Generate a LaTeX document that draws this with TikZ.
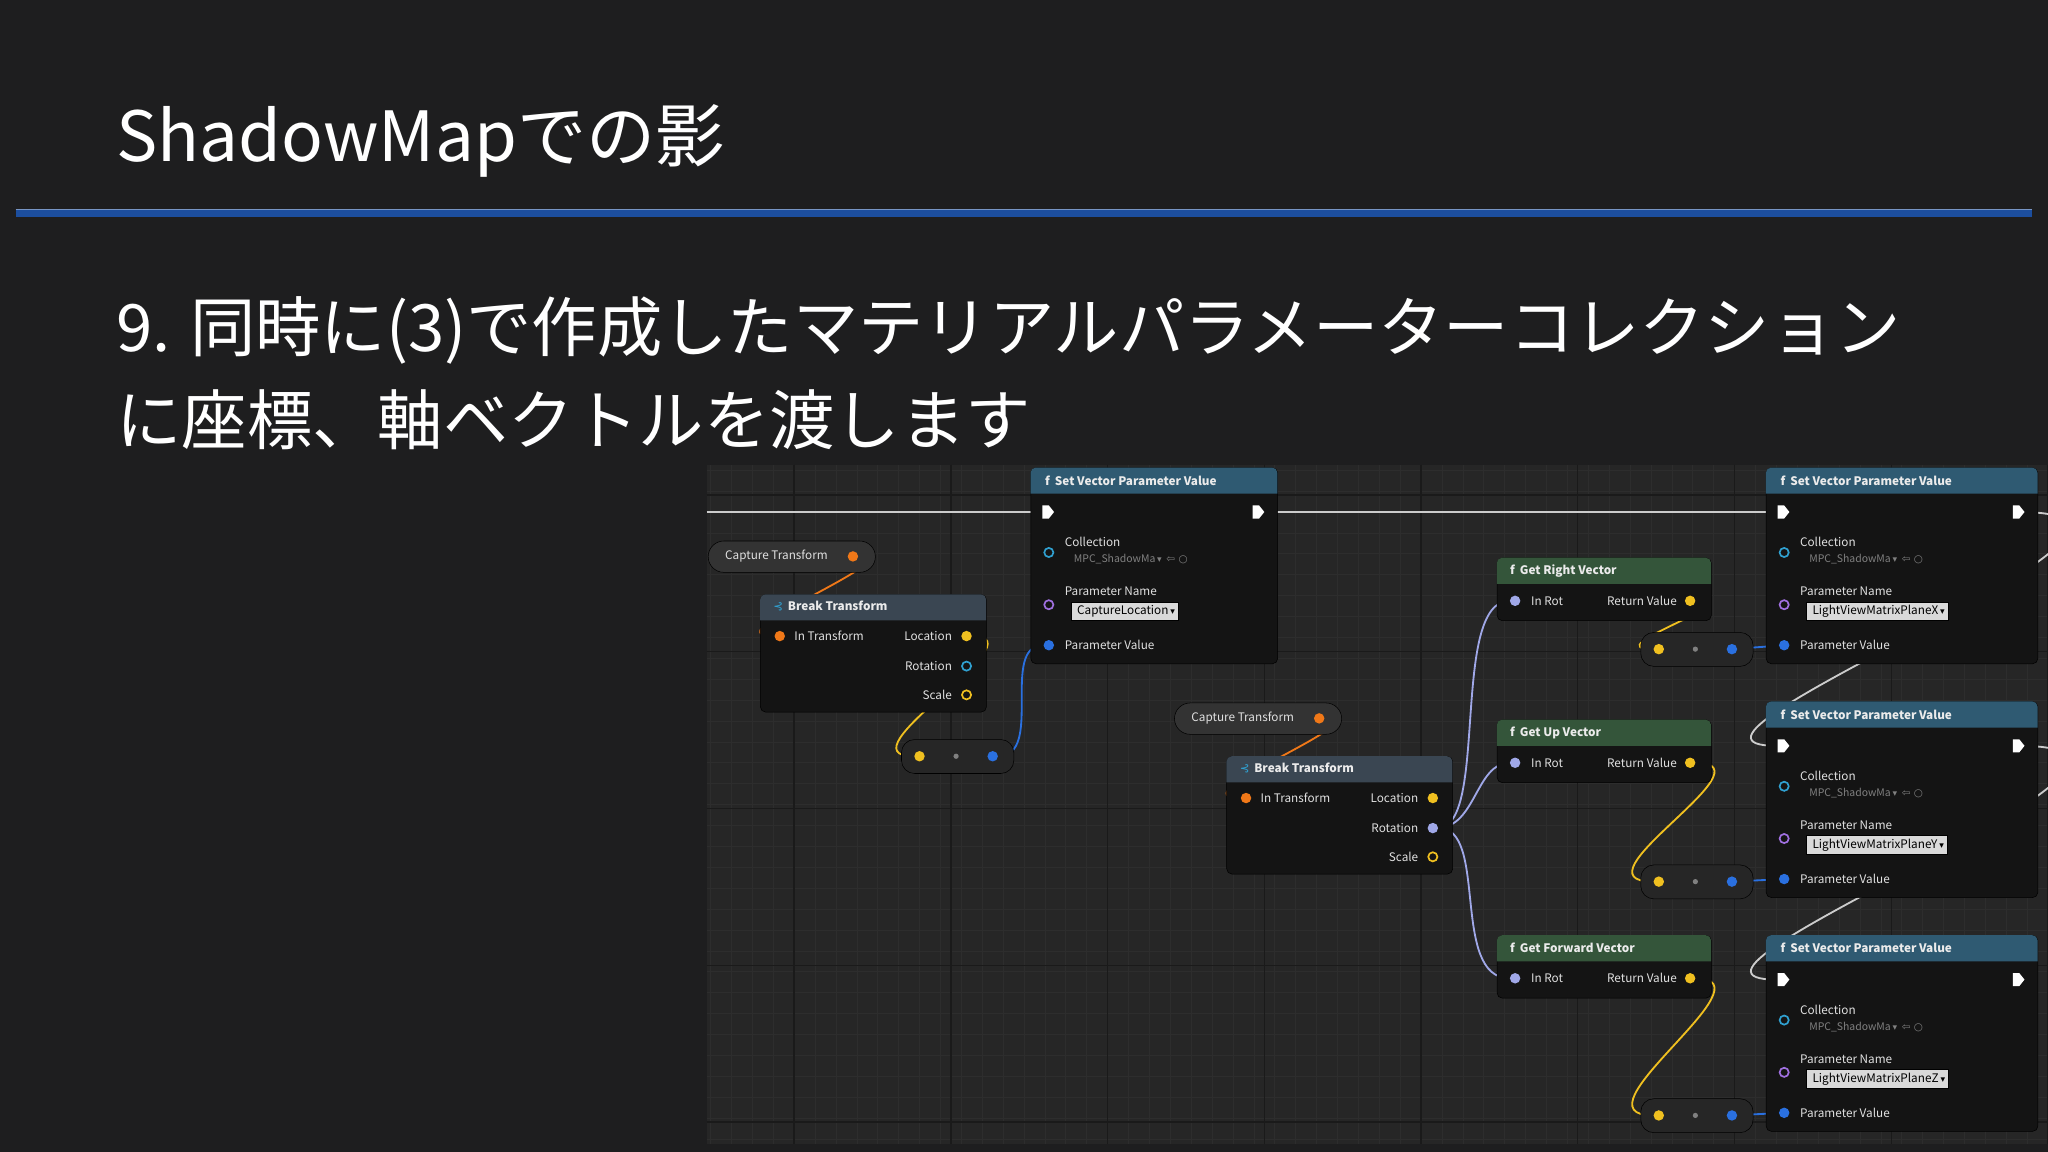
\documentclass[tikz,border=0pt]{standalone}
\usepackage{fontspec}
\setmainfont{Noto Sans CJK JP}
\newfontfamily\symf{DejaVu Sans}
\definecolor{bg}{HTML}{1E1E1F}
\definecolor{panel}{HTML}{262626}
\definecolor{gmin}{HTML}{2D2D2D}
\definecolor{gmaj}{HTML}{1A1A1A}
\definecolor{body}{HTML}{141414}
\definecolor{hfun}{HTML}{2F5A72}
\definecolor{hget}{HTML}{34553A}
\definecolor{hbrk}{HTML}{3A4652}
\definecolor{wor}{HTML}{F07818}
\definecolor{wye}{HTML}{F0C020}
\definecolor{wbl}{HTML}{2A70E0}
\definecolor{wcy}{HTML}{30A0D0}
\definecolor{wpu}{HTML}{A070E0}
\definecolor{wla}{HTML}{A0A8E8}
\definecolor{blu}{HTML}{1C4E9E}
\pgfdeclarelayer{gridl}
\pgfdeclarelayer{wirel}
\pgfsetlayers{gridl,wirel,main}
\tikzset{
 nbody/.style={fill=body,draw=black,rounded corners=4},
 lbl/.style={font=\fontsize{9}{10}\selectfont,text=white!88!black,inner sep=0},
 hlbl/.style={font=\bfseries\fontsize{9}{10}\selectfont,text=white!92!black,inner sep=0,anchor=west},
 pinf/.style={circle,fill=#1,inner sep=0,minimum size=8},
 pino/.style={circle,draw=#1,line width=1.3,inner sep=0,minimum size=7},
 wire/.style={line width=1.4,draw=#1},
 ddb/.style={fill=white!85!black,draw=black,inner sep=2.5,text=black,font=\fontsize{9}{10}\selectfont},
}
\newcommand\dtri{{\symf\fontsize{7}{8}\selectfont ▾}}
\newcommand\execpin[2]{\fill[white] (#1-4,#2-5) -- (#1+1,#2-5) -- (#1+5,#2) -- (#1+1,#2+5) -- (#1-4,#2+5) -- cycle;}
\newcommand\hdrbar[4]{\fill[#4] (#1,#2+20) [rounded corners=4] -- (#1,#2) -- (#1+#3,#2) [sharp corners] -- (#1+#3,#2+20) -- cycle;}
\newcommand\svpvnode[5]{%
 \node[nbody,minimum width=#4,minimum height=150,anchor=north west] (#1) at (#2,#3) {};
 \hdrbar{#2}{#3}{#4}{hfun}
 \node[hlbl] (#1-t) at (#2+11,#3+10) {\textit{f}\, Set Vector Parameter Value};
 \execpin{#2+13}{#3+34}\execpin{#2+#4-15}{#3+34}
 \node[pino=wcy] (#1-c) at (#2+14,#3+65) {};
 \node[lbl,anchor=west] (#1-cl) at (#2+26,#3+57) {Collection};
 \node[lbl,anchor=west,text=gray,font=\fontsize{8}{9}\selectfont] (#1-cd) at (#2+33,#3+70) {MPC\_ShadowMa\,\dtri\ \ {\symf ⇦ ○}};
 \node[pino=wpu] (#1-n) at (#2+14,#3+105) {};
 \node[lbl,anchor=west] (#1-nl) at (#2+26,#3+95) {Parameter Name};
 \node[ddb,anchor=west] (#1-nb) at (#2+31,#3+110) {\ #5\,\dtri\ };
 \node[pinf=wbl] (#1-v) at (#2+14,#3+136) {};
 \node[lbl,anchor=west] (#1-vl) at (#2+26,#3+136) {Parameter Value};
}
\newcommand\getnode[4]{%
 \node[nbody,minimum width=164,minimum height=48,anchor=north west] (#1) at (#2,#3) {};
 \hdrbar{#2}{#3}{164}{hget}
 \node[hlbl] (#1-t) at (#2+10,#3+10) {\textit{f}\, #4};
 \node[pinf=wla] (#1-i) at (#2+14,#3+33) {};
 \node[lbl,anchor=west] (#1-il) at (#2+26,#3+33) {In Rot};
 \node[pinf=wye] (#1-o) at (#2+148,#3+33) {};
 \node[lbl,anchor=east] (#1-ol) at (#2+138,#3+33) {Return Value};
}
\newcommand\mknode[3]{%
 \node[nbody,fill=black!85!white,minimum width=86,minimum height=26,rounded corners=10,anchor=north west] (#1) at (#2,#3) {};
 \node[pinf=wye] (#1-y) at (#2+14,#3+13) {};
 \node[circle,fill=gray,inner sep=0,minimum size=4] (#1-d) at (#2+42,#3+13) {};
 \node[pinf=wbl] (#1-b) at (#2+70,#3+13) {};
}
\newcommand\capnode[3]{%
 \node[nbody,fill=black!80!white,minimum width=128,minimum height=24,rounded corners=12,anchor=north west] (#1) at (#2,#3) {};
 \node[lbl,anchor=west] (#1-t) at (#2+13,#3+12) {Capture Transform};
 \node[pinf=wor] (#1-o) at (#2+111,#3+12) {};
}
\newcommand\brknode[4]{%
 \node[nbody,minimum width=173,minimum height=90,anchor=north west] (#1) at (#2,#3) {};
 \hdrbar{#2}{#3}{173}{hbrk}
 \node[hlbl] (#1-t) at (#2+10,#3+9) {{\symf\mdseries\textcolor{wcy}{⊰}}\, Break Transform};
 \node[pinf=wor] (#1-i) at (#2+15,#3+32) {};
 \node[lbl,anchor=west] (#1-il) at (#2+26,#3+32) {In Transform};
 \node[pinf=wye] (#1-l) at (#2+158,#3+32) {};
 \node[lbl,anchor=east] (#1-ll) at (#2+147,#3+32) {Location};
 \node[#4] (#1-r) at (#2+158,#3+55) {};
 \node[lbl,anchor=east] (#1-rl) at (#2+147,#3+55) {Rotation};
 \node[pino=wye] (#1-s) at (#2+158,#3+77) {};
 \node[lbl,anchor=east] (#1-sl) at (#2+147,#3+77) {Scale};
}
\begin{document}
\begin{tikzpicture}[x=1pt,y=-1pt]
\begin{pgfonlayer}{gridl}
\fill[bg] (0,0) rectangle (1568,882);
\fill[panel] (541,356) rectangle (1568,876);
\begin{scope}
\clip (541,356) rectangle (1568,876);
\foreach \x in {544,560,...,1568} \draw[gmin,line width=0.5] (\x,356) -- (\x,876);
\foreach \y in {360,376,...,876} \draw[gmin,line width=0.5] (541,\y) -- (1568,\y);
\foreach \x in {608,728,...,1568} \draw[gmaj,line width=1] (\x,356) -- (\x,876);
\foreach \y in {379,499,...,876} \draw[gmaj,line width=1] (541,\y) -- (1568,\y);
\end{scope}
\end{pgfonlayer}
\useasboundingbox (0,0) rectangle (1568,882);
\node[anchor=west,text=white,font=\fontsize{53}{60}\selectfont,inner sep=0] (title) at (89,108) {ShadowMapでの影};
\fill[blu] (12,160) rectangle (1556,166);
\draw[blu!60!white,line width=0.6] (12,160) -- (1556,160);
\node[anchor=west,text=white,font=\fontsize{50}{56}\selectfont,inner sep=0] (l1) at (89,253) {9. 同時に(3)で作成したマテリアルパラメーターコレクション};
\node[anchor=west,text=white,font=\fontsize{50}{56}\selectfont,inner sep=0] (l2) at (89,321) {に座標、軸ベクトルを渡します};
% nodes
\svpvnode{s1}{789}{358}{189}{CaptureLocation}
\svpvnode{s2}{1352}{358}{208}{LightViewMatrixPlaneX}
\svpvnode{s3}{1352}{537}{208}{LightViewMatrixPlaneY}
\svpvnode{s4}{1352}{716}{208}{LightViewMatrixPlaneZ}
\capnode{c1}{542}{414}
\capnode{c2}{899}{538}
\brknode{b1}{582}{455}{pino=wcy}
\brknode{b2}{939}{579}{pinf=wla}
\mknode{m1}{690}{566}
\mknode{m2}{1256}{484}
\mknode{m3}{1256}{662}
\mknode{m4}{1256}{841}
\getnode{g1}{1146}{427}{Get Right Vector}
\getnode{g2}{1146}{551}{Get Up Vector}
\getnode{g3}{1146}{716}{Get Forward Vector}
\begin{pgfonlayer}{wirel}
\coordinate (e0) at (541,392);
\coordinate (e1) at (790,392);
\coordinate (e2) at (975,392);
\coordinate (e3) at (1353,392);
\coordinate (x2) at (1545,392);
\coordinate (y3) at (1360,571);
\coordinate (x3) at (1545,571);
\coordinate (y4) at (1360,750);
\draw[wire=white!80!black] (e0) -- (e1);
\draw[wire=white!80!black] (e2) -- (e3);
\draw[wire=white!80!black] (x2) .. controls (1720,392) and (1240,571) .. (y3);
\draw[wire=white!80!black] (x3) .. controls (1720,571) and (1240,750) .. (y4);
\draw[wire=wor] (c1-o) .. controls (700,426) and (540,487) .. (b1-i);
\draw[wire=wye] (b1-l) .. controls (800,487) and (640,579) .. (m1-y);
\draw[wire=wbl] (m1-b) .. controls (800,579) and (765,494) .. (s1-v);
\draw[wire=wor] (c2-o) .. controls (1058,550) and (897,611) .. (b2-i);
\draw[wire=wla] (b2-r) .. controls (1140,633) and (1110,460) .. (g1-i);
\draw[wire=wla] (b2-r) .. controls (1130,633) and (1130,584) .. (g2-i);
\draw[wire=wla] (b2-r) .. controls (1140,633) and (1110,749) .. (g3-i);
\draw[wire=wye] (g1-o) .. controls (1340,460) and (1220,497) .. (m2-y);
\draw[wire=wye] (g2-o) .. controls (1360,584) and (1200,675) .. (m3-y);
\draw[wire=wye] (g3-o) .. controls (1360,749) and (1200,854) .. (m4-y);
\draw[wire=wbl] (m2-b) -- (s2-v);
\draw[wire=wbl] (m3-b) -- (s3-v);
\draw[wire=wbl] (m4-b) -- (s4-v);
\end{pgfonlayer}
\end{tikzpicture}
\end{document}
